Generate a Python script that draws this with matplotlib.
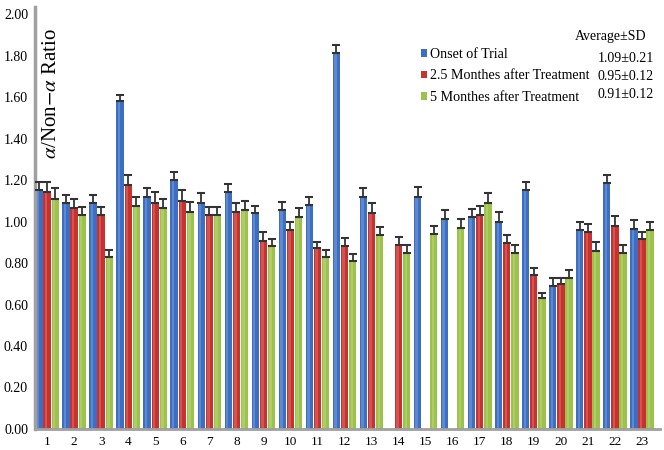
import numpy as np
import matplotlib
matplotlib.use("Agg")
import matplotlib.pyplot as plt

nan = np.nan

groups = [str(i) for i in range(1, 24)]
onset = [1.15, 1.09, 1.09, 1.58, 1.12, 1.20, 1.09, 1.14, 1.04, 1.055, 1.08, 1.81,
         1.12, nan, 1.12, 1.01, 1.02, 1.00, 1.15, 0.69, 0.96, 1.185, 0.965]
month25 = [1.14, 1.065, 1.03, 1.175, 1.09, 1.10, 1.03, 1.045, 0.905, 0.96, 0.87, 0.88,
           1.04, 0.887, nan, nan, 1.03, 0.895, 0.74, 0.70, 0.95, 0.98, 0.915]
month5 = [1.11, 1.03, 0.83, 1.075, 1.065, 1.045, 1.03, 1.055, 0.88, 1.02, 0.83, 0.81,
          0.935, 0.85, 0.94, 0.97, 1.09, 0.85, 0.63, 0.73, 0.86, 0.85, 0.96]

onset_sd = [0.04, 0.04, 0.04, 0.03, 0.04, 0.04, 0.045, 0.04, 0.035, 0.04, 0.04, 0.04,
            0.04, nan, 0.045, 0.045, 0.04, 0.045, 0.04, 0.04, 0.04, 0.04, 0.04]
month25_sd = [0.05, 0.045, 0.04, 0.05, 0.05, 0.05, 0.04, 0.045, 0.045, 0.04, 0.03, 0.04,
              0.05, 0.04, nan, nan, 0.045, 0.04, 0.035, 0.03, 0.04, 0.045, 0.035]
month5_sd = [0.05, 0.04, 0.035, 0.045, 0.045, 0.05, 0.04, 0.045, 0.035, 0.045, 0.035, 0.035,
             0.04, 0.035, 0.04, 0.04, 0.045, 0.035, 0.025, 0.035, 0.04, 0.035, 0.04]

series_labels = ["Onset of Trial", "2.5 Monthes after Treatment", "5 Monthes after Treatment"]
summary = ["1.09\u00b10.21", "0.95\u00b10.12", "0.91\u00b10.12"]
colors = ["#3c6fc4", "#c8312d", "#9cc24a"]

plt.rcParams["font.family"] = ["Liberation Serif", "DejaVu Serif"]
plt.rcParams["mathtext.fontset"] = "stix"

fig = plt.figure(figsize=(6.64, 4.5), dpi=100)
# axes from y=7px to y=429px, x=35px to 660px
ax = fig.add_axes([35 / 664, 21 / 450, 625 / 664, 422 / 450])

x = np.arange(1, len(groups) + 1)
w = 0.3
handles = []
for i, (vals, sd) in enumerate(zip([onset, month25, month5], [onset_sd, month25_sd, month5_sd])):
    vals = np.array(vals)
    sd = np.array(sd)
    pos = x + (i - 1) * w
    b = ax.bar(pos, vals, w * 0.92, color=colors[i], edgecolor="none", label=series_labels[i], zorder=2)
    handles.append(b)
    # light highlight to mimic the rounded bars
    ax.bar(pos - w * 0.12, vals, w * 0.28, color="white", alpha=0.18, edgecolor="none", zorder=2.5)
    ax.errorbar(pos, vals, yerr=[np.zeros_like(sd), sd], fmt="none", ecolor="#333333",
                elinewidth=1.3, capsize=3, capthick=1.5, zorder=3)

ax.set_xlim(0.55, 23.67)
ax.set_ylim(0, 2.0 * 422 / 415)
ax.set_xticks(x)
ax.set_xticklabels(groups, fontsize=9.5)
ticks = np.arange(0, 2.01, 0.2)
ax.set_yticks(ticks)
ax.set_yticklabels([f"{v:.2f}" for v in ticks], fontsize=10)
ax.tick_params(axis="y", length=0, pad=5)
ax.tick_params(axis="x", length=0, pad=5)
for s in ["top", "right"]:
    ax.spines[s].set_visible(False)
ax.spines["left"].set_color("#a0a0a0")
ax.spines["left"].set_linewidth(2.5)
ax.spines["bottom"].set_color("#a0a0a0")
ax.spines["bottom"].set_linewidth(2.0)

ax.text(0.012, 0.95, r"$\alpha$/Non$-\alpha$ Ratio", transform=ax.transAxes, rotation=90,
        ha="left", va="top", fontsize=15)

leg = ax.legend(handles=handles, loc="upper left", bbox_to_anchor=(0.617, 0.903), frameon=False,
                fontsize=10.1, handlelength=0.45, handleheight=0.45, handletextpad=0.2,
                labelspacing=0.6, borderpad=0, borderaxespad=0)

ax.text(0.978, 0.929, "Average\u00b1SD", transform=ax.transAxes, ha="right", va="center", fontsize=10)
for k, s in enumerate(summary):
    ax.text(0.99, 0.879 - k * 0.043, s, transform=ax.transAxes, ha="right", va="center", fontsize=10)

fig.savefig("out.png", dpi=100)
